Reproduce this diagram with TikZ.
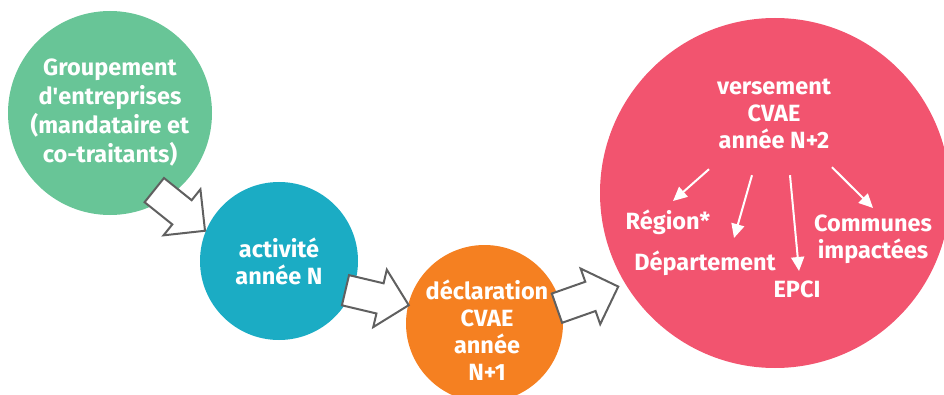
\documentclass[tikz,border=0pt]{standalone}
\usepackage{fontspec}
\setmainfont{Fira Sans}
\usetikzlibrary{
  shapes.arrows, % Shape "single arrow"
  arrows.meta,
  positioning,
}
\definecolor{myGreen}{HTML}{68C597}
\definecolor{myTeal}{HTML}{1BACC4}
\definecolor{myOrange}{HTML}{F58021}
\definecolor{myPink}{HTML}{F2546F}
\definecolor{myGray}{HTML}{606060}
\tikzset{
  font=\bfseries,
  my disc/.style={
    circle,
    draw=none,
    inner sep=0mm,
    text=white,
    align=center,
    font=\fontsize{23.5}{27}\selectfont\bfseries
  },
  my text/.style={
    text=white,
    align=center,
    inner sep=0mm,
    font=\fontsize{23.5}{27}\selectfont\bfseries
  },
  my block arrow/.style={
    single arrow,
    draw=myGray,
    line width=2pt,
    fill=white,
    inner sep=0pt,
    inner ysep=14.5pt,
    minimum height=65pt,
    minimum width=57pt,
    single arrow head extend=14pt
  },
  my sub arrow/.style={
    draw=white,
    line width=2pt,
    -{Triangle[length=14pt,width=13pt]}
  }
}

\begin{document}
\begin{tikzpicture}[x=1pt,y=1pt]
\useasboundingbox (0,0) rectangle (944,394);
% discs
\node[my disc, fill=myGreen, minimum size=204pt,
      font=\fontsize{23.5}{29}\selectfont\bfseries] (groupement) at (110,281)
  {Groupement\\d\textquotesingle entreprises\\(mandataire et\\co-traitants)};
\node[my disc, fill=myTeal, minimum size=158pt] (activite) at (279,133)
  {activité\\année N};
\node[my disc, fill=myOrange, minimum size=157pt] (declaration) at (484.5,70.5) {};
\node[my text] (declaration text) at (487,64) {déclaration\\CVAE\\année\\N+1};
\node[my disc, fill=myPink, minimum size=350pt] (versement) at (775,201) {};
% block arrows
\node[my block arrow, rotate=-38.7, anchor=tail] (arr1) at (153.5,204.5) {};
\node[my block arrow, rotate=-13.3, anchor=tail] (arr2) at (344.5,104) {};
\node[my block arrow, rotate=19.4, anchor=tail] (arr3) at (556,85.5) {};
% inside the pink disc
\node[my text] (titre) at (774,280) {versement\\CVAE\\année N+2};
\node[my text, anchor=base] (region) at (668,165) {Région*};
\node[my text, anchor=base] (departement) at (705,124) {Département};
\node[my text, anchor=base] (epci) at (797,97) {EPCI};
\node[my text] (communes) at (873,154.5) {Communes\\impactées};
\draw[my sub arrow] ([shift={(-65,-20)}]titre.south) -- ([shift={(5,28)}]region.base);
\draw[my sub arrow] ([shift={(-22,-26)}]titre.south) -- ([shift={(29,32)}]departement.base);
\draw[my sub arrow] ([shift={(16,-26)}]titre.south) -- ([shift={(2,26)}]epci.base);
\draw[my sub arrow] ([shift={(58,-18)}]titre.south) -- ([shift={(0,31.5)}]communes.center);
\end{tikzpicture}
\end{document}
